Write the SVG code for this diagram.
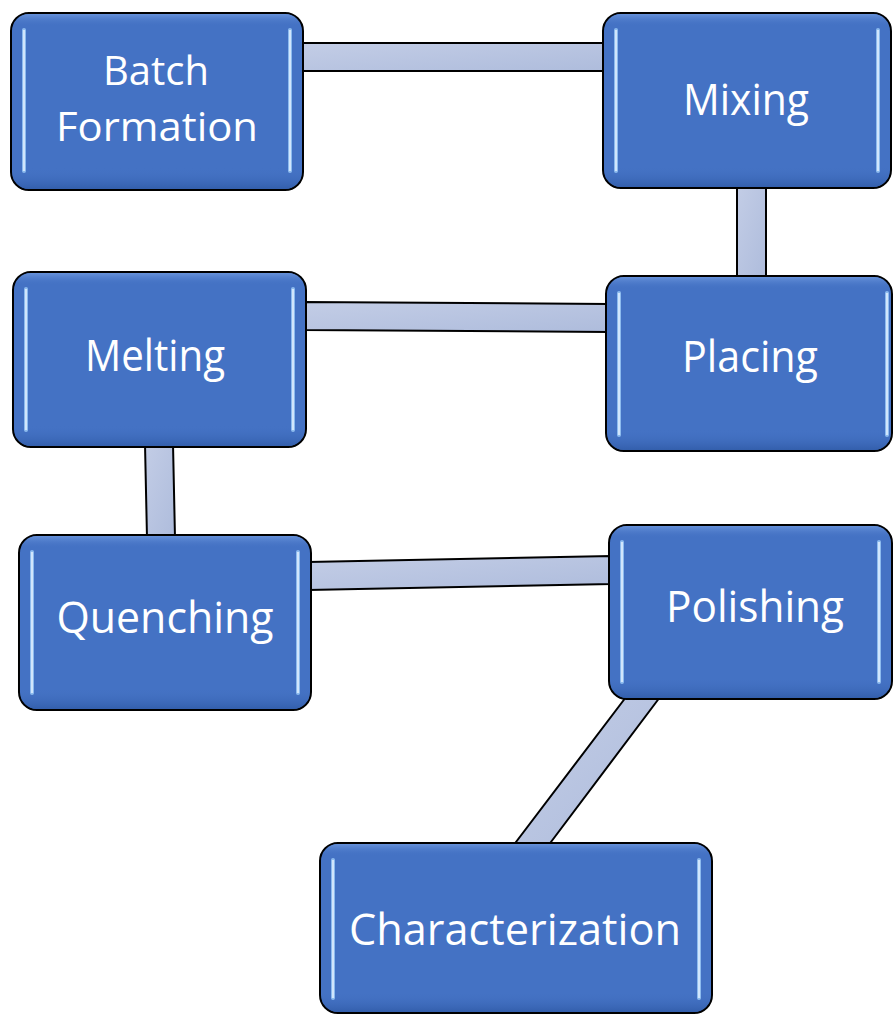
<svg xmlns="http://www.w3.org/2000/svg" width="893" height="1015" viewBox="0 0 893 1015">
<style>
.box{fill:#4472c4;stroke:#000;stroke-width:2}
.shade{fill:url(#bevel);stroke:none}
.hl{fill:#8dbbee}
.hl2{fill:#e2f1ff}
.bar{fill:url(#barg);stroke:#000;stroke-width:2;stroke-linejoin:round}
.lbl{font-family:"Open Sans","Liberation Sans",sans-serif;font-size:44px;fill:#fff;text-anchor:middle}
.lbl2{font-size:41px}
</style>
<defs>
<linearGradient id="bevel" x1="0" y1="0" x2="0" y2="1">
<stop offset="0" stop-color="#6a95dc" stop-opacity="0.9"/>
<stop offset="0.07" stop-color="#4472c4" stop-opacity="0"/>
<stop offset="0.88" stop-color="#4472c4" stop-opacity="0"/>
<stop offset="1" stop-color="#2f5aa6" stop-opacity="0.8"/>
</linearGradient>
<linearGradient id="barg" x1="0" y1="0" x2="1" y2="1">
<stop offset="0" stop-color="#c3cde6"/>
<stop offset="1" stop-color="#aebcdc"/>
</linearGradient>
</defs>
<g id="connectors">
<polygon class="bar" points="300,43 606,43 606,71 300,71"/>
<polygon class="bar" points="737,185 766,185 766,279 737,279"/>
<polygon class="bar" points="303,302 609,304 609,332 303,330"/>
<polygon class="bar" points="145,444 173,444 175,538 147,538"/>
<polygon class="bar" points="308,562 612,556 612,584 308,590"/>
<polygon class="bar" points="626.8,696 660.8,696 547.2,847 512.2,847"/>
</g>
<g id="node-batch">
<rect class="box" x="11" y="13" width="292" height="177" rx="18"/>
<rect class="shade" x="12" y="14" width="290" height="175" rx="17"/>
<rect class="hl" x="22" y="28" width="4" height="145" rx="2"/><rect class="hl2" x="23.2" y="30" width="1.6" height="141"/>
<rect class="hl" x="288" y="28" width="4" height="145" rx="2"/><rect class="hl2" x="289.2" y="30" width="1.6" height="141"/>
<text class="lbl lbl2"><tspan x="156" y="85" textLength="106" lengthAdjust="spacingAndGlyphs">Batch</tspan><tspan x="157" y="141" textLength="202" lengthAdjust="spacingAndGlyphs">Formation</tspan></text>
</g>
<g id="node-mixing">
<rect class="box" x="603" y="13" width="288" height="175" rx="18"/>
<rect class="shade" x="604" y="14" width="286" height="173" rx="17"/>
<rect class="hl" x="614" y="28" width="4" height="145" rx="2"/><rect class="hl2" x="615.2" y="30" width="1.6" height="141"/>
<rect class="hl" x="876" y="28" width="4" height="145" rx="2"/><rect class="hl2" x="877.2" y="30" width="1.6" height="141"/>
<text class="lbl" x="746" y="115" textLength="126" lengthAdjust="spacingAndGlyphs">Mixing</text>
</g>
<g id="node-placing">
<rect class="box" x="606" y="276" width="286" height="175" rx="18"/>
<rect class="shade" x="607" y="277" width="284" height="173" rx="17"/>
<rect class="hl" x="617" y="291" width="4" height="146" rx="2"/><rect class="hl2" x="618.2" y="293" width="1.6" height="142"/>
<rect class="hl" x="885" y="291" width="4" height="146" rx="2"/><rect class="hl2" x="886.2" y="293" width="1.6" height="142"/>
<text class="lbl" x="750" y="372" textLength="136" lengthAdjust="spacingAndGlyphs">Placing</text>
</g>
<g id="node-melting">
<rect class="box" x="13" y="272" width="293" height="175" rx="18"/>
<rect class="shade" x="14" y="273" width="291" height="173" rx="17"/>
<rect class="hl" x="24" y="287" width="4" height="145" rx="2"/><rect class="hl2" x="25.2" y="289" width="1.6" height="141"/>
<rect class="hl" x="291" y="287" width="4" height="145" rx="2"/><rect class="hl2" x="292.2" y="289" width="1.6" height="141"/>
<text class="lbl" x="155" y="371" textLength="140" lengthAdjust="spacingAndGlyphs">Melting</text>
</g>
<g id="node-quenching">
<rect class="box" x="19" y="535" width="292" height="175" rx="18"/>
<rect class="shade" x="20" y="536" width="290" height="173" rx="17"/>
<rect class="hl" x="30" y="550" width="4" height="145" rx="2"/><rect class="hl2" x="31.2" y="552" width="1.6" height="141"/>
<rect class="hl" x="296" y="550" width="4" height="145" rx="2"/><rect class="hl2" x="297.2" y="552" width="1.6" height="141"/>
<text class="lbl" x="165" y="633" textLength="217" lengthAdjust="spacingAndGlyphs">Quenching</text>
</g>
<g id="node-polishing">
<rect class="box" x="609" y="525" width="283" height="174" rx="18"/>
<rect class="shade" x="610" y="526" width="281" height="172" rx="17"/>
<rect class="hl" x="620" y="540" width="4" height="144" rx="2"/><rect class="hl2" x="621.2" y="542" width="1.6" height="140"/>
<rect class="hl" x="877" y="540" width="4" height="144" rx="2"/><rect class="hl2" x="878.2" y="542" width="1.6" height="140"/>
<text class="lbl" x="755" y="622" textLength="178" lengthAdjust="spacingAndGlyphs">Polishing</text>
</g>
<g id="node-characterization">
<rect class="box" x="320" y="843" width="392" height="170" rx="18"/>
<rect class="shade" x="321" y="844" width="390" height="168" rx="17"/>
<rect class="hl" x="331" y="858" width="4" height="142" rx="2"/><rect class="hl2" x="332.2" y="860" width="1.6" height="138"/>
<rect class="hl" x="697" y="858" width="4" height="142" rx="2"/><rect class="hl2" x="698.2" y="860" width="1.6" height="138"/>
<text class="lbl" x="515" y="945" textLength="332" lengthAdjust="spacingAndGlyphs">Characterization</text>
</g>
</svg>
